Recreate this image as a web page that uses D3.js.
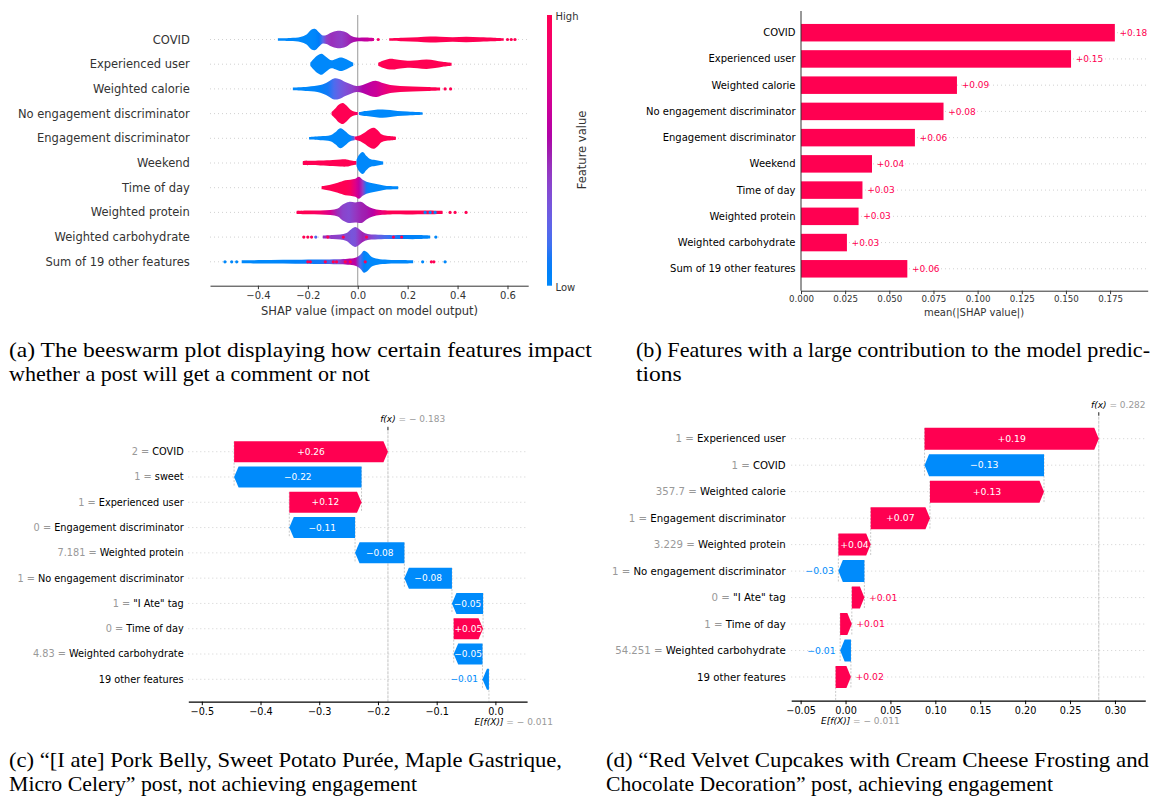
<!DOCTYPE html>
<html><head><meta charset="utf-8">
<script src="https://cdn.jsdelivr.net/npm/d3@7"></script>
<style>
html,body{margin:0;padding:0;background:#fff;}
svg{display:block;font-family:"DejaVu Sans",sans-serif;}
text{white-space:pre;}
</style></head><body>
<svg id="chart" width="1158" height="799"></svg>
<script>
// ================= DATA =================
// (a) beeswarm
const beeFeatures = ["COVID","Experienced user","Weighted calorie","No engagement discriminator","Engagement discriminator","Weekend","Time of day","Weighted protein","Weighted carbohydrate","Sum of 19 other features"];
const beeTicks = [-0.4,-0.2,0.0,0.2,0.4,0.6];
// swarm density profiles: [SHAP value, swarm density (0-12), feature value 0=low..1=high]
const beeBlobs = [
  ["COVID", [[-0.32,1.2,0],[-0.27,1.5,0],[-0.23,2.5,0],[-0.205,5,0],[-0.185,10,0],[-0.17,10.5,0.02],[-0.155,7,0.08],[-0.14,4,0.2],[-0.125,4.5,0.4],[-0.105,7,0.45],[-0.085,8.5,0.42],[-0.065,8.5,0.4],[-0.045,7,0.45],[-0.025,3.5,0.5],[-0.005,2,0.55],[0.03,2,0.62],[0.065,1.5,0.7]]],
  ["COVID", [[0.126,1.3,1],[0.18,1.8,1],[0.24,2.3,1],[0.29,3,1],[0.33,2.8,1],[0.38,2.3,1],[0.435,2.8,1],[0.49,2.2,1],[0.545,1.8,1],[0.585,1.3,1]]],
  ["Experienced user", [[-0.19,1.5,0],[-0.178,5,0],[-0.16,9,0],[-0.145,10.5,0],[-0.13,8,0],[-0.115,5,0],[-0.105,4,0],[-0.09,5,0],[-0.075,6.5,0],[-0.06,6.5,0],[-0.045,5,0],[-0.03,3,0],[-0.018,1.5,0]]],
  ["Experienced user", [[0.082,1.5,1],[0.1,3.5,1],[0.12,5,1],[0.142,5.3,1],[0.17,4.2,1],[0.209,3.5,1],[0.24,4,1],[0.276,4.7,1],[0.31,3.8,1],[0.34,2.5,1],[0.376,1.5,1]]],
  ["Weighted calorie", [[-0.26,1.3,0],[-0.2,2.2,0],[-0.15,3.8,0.05],[-0.12,7,0.1],[-0.095,10.5,0.18],[-0.075,10,0.25],[-0.05,7,0.32],[-0.025,4.5,0.38],[-0.005,3,0.45],[0.02,4,0.55],[0.05,7,0.62],[0.075,8,0.66],[0.1,6,0.75],[0.13,4,0.88],[0.17,3,0.97],[0.22,2.5,1],[0.28,2,1],[0.33,1.5,1]]],
  ["No engagement discriminator", [[-0.105,1.5,1],[-0.09,5,1],[-0.075,9,1],[-0.06,10.5,1],[-0.045,8,1],[-0.03,4,1],[-0.015,2,1],[0.0,1.5,0.85]]],
  ["No engagement discriminator", [[0.005,1.5,0.1],[0.02,2.2,0],[0.05,3,0],[0.08,4,0],[0.1,4.2,0],[0.13,3.5,0],[0.16,2.5,0],[0.2,2,0],[0.24,1.5,0],[0.26,1.2,0]]],
  ["Engagement discriminator", [[-0.195,1.3,0],[-0.15,2,0],[-0.11,3,0],[-0.09,6,0],[-0.07,10,0],[-0.05,7,0],[-0.03,3,0],[-0.012,2,0.3]]],
  ["Engagement discriminator", [[-0.012,1.5,0.9],[0.01,3,1],[0.03,6,1],[0.05,9.5,1],[0.065,10.5,1],[0.08,8,1],[0.095,4,1],[0.115,2.5,1],[0.14,2,1],[0.153,1.5,1]]],
  ["Weekend", [[-0.22,2,1],[-0.15,2.4,1],[-0.1,3,1],[-0.07,3.5,1],[-0.045,3.6,1],[-0.02,2.2,1],[-0.005,1.8,1]]],
  ["Weekend", [[-0.005,3,0.05],[0.005,8,0],[0.02,11,0],[0.035,7,0],[0.05,4,0],[0.07,3,0],[0.09,2,0],[0.102,1.5,0]]],
  ["Time of day", [[-0.145,1.5,1],[-0.11,3,1],[-0.08,5,1],[-0.05,7.5,1],[-0.03,8,0.95],[-0.01,9,0.75],[0.005,11,0.6],[0.02,8,0.4],[0.035,6,0.1],[0.05,5,0],[0.07,4,0],[0.09,3,0],[0.11,2,0],[0.162,1.5,0]]],
  ["Weighted protein", [[-0.245,1.5,1],[-0.2,1.8,1],[-0.15,2,0.9],[-0.11,2.5,0.7],[-0.08,4,0.45],[-0.06,8,0.38],[-0.035,10.5,0.35],[-0.01,10,0.42],[0.015,10.5,0.48],[0.035,7,0.5],[0.06,4,0.58],[0.09,2.5,0.8],[0.13,2,1],[0.2,2,1],[0.28,1.8,1],[0.34,1.5,1]]],
  ["Weighted carbohydrate", [[-0.14,1.5,0.45],[-0.1,2,0.4],[-0.07,2.5,0.38],[-0.045,4,0.35],[-0.025,8,0.3],[-0.01,10,0.32],[0.005,8,0.42],[0.02,5,0.48],[0.04,3,0.42],[0.07,2.5,0.3],[0.12,2,0.15],[0.18,2,0.08],[0.24,2,0.03],[0.29,1.5,0]]],
  ["Sum of 19 other features", [[-0.465,1.5,0],[-0.35,1.8,0],[-0.25,2,0.05],[-0.15,2.2,0.1],[-0.08,2.5,0.3],[-0.04,3,0.6],[-0.01,4,0.6],[0.01,7,0.2],[0.025,11,0.05],[0.04,9,0],[0.055,5,0],[0.08,3,0],[0.12,2,0],[0.18,1.8,0],[0.222,1.5,0]]]
];
// individual visible dots: [feature, SHAP value, feature value]
const beeDots = [
  ["COVID",0.082,0.9],["COVID",0.60,1],["COVID",0.615,1],["COVID",0.63,1],
  ["Weighted calorie",0.35,1],["Weighted calorie",0.372,1],
  ["Weighted protein",-0.238,1],["Weighted protein",-0.226,1],["Weighted protein",0.27,0],["Weighted protein",0.29,0],["Weighted protein",0.31,0],["Weighted protein",0.37,1],["Weighted protein",0.39,1],["Weighted protein",0.434,1],
  ["Weighted carbohydrate",-0.216,1],["Weighted carbohydrate",-0.2,1],["Weighted carbohydrate",-0.185,1],["Weighted carbohydrate",-0.168,0.2],["Weighted carbohydrate",-0.12,1],["Weighted carbohydrate",-0.058,1],["Weighted carbohydrate",0.035,1],["Weighted carbohydrate",0.143,1],["Weighted carbohydrate",0.176,1],["Weighted carbohydrate",0.313,0],
  ["Sum of 19 other features",-0.532,0],["Sum of 19 other features",-0.505,0],["Sum of 19 other features",-0.485,0],["Sum of 19 other features",-0.2,1],["Sum of 19 other features",-0.19,1],["Sum of 19 other features",-0.13,1],["Sum of 19 other features",-0.098,1],["Sum of 19 other features",-0.085,1],["Sum of 19 other features",-0.05,1],["Sum of 19 other features",-0.03,1],["Sum of 19 other features",0.03,1],["Sum of 19 other features",0.26,0],["Sum of 19 other features",0.295,1],["Sum of 19 other features",0.305,1],["Sum of 19 other features",0.35,0]
];

// (b) mean |SHAP| bar chart
const barFeatures = ["COVID","Experienced user","Weighted calorie","No engagement discriminator","Engagement discriminator","Weekend","Time of day","Weighted protein","Weighted carbohydrate","Sum of 19 other features"];
const barValues = [0.1777,0.1529,0.0883,0.0807,0.0645,0.0402,0.0348,0.0326,0.0260,0.0602];
const barTicks = [0,0.025,0.05,0.075,0.1,0.125,0.15,0.175];

// (c) waterfall, post not achieving engagement
const wfCFeatures = ["COVID","sweet","Experienced user","Engagement discriminator","Weighted protein","No engagement discriminator","\"I Ate\" tag","Time of day","Weighted carbohydrate","19 other features"];
const wfCFeatureValues = ["2","1","1","0","7.181","1","1","0","4.83",""];
const wfCShap = [0.262,-0.217,0.123,-0.112,-0.084,-0.081,-0.053,0.050,-0.049,-0.011];
const wfCBase = -0.011, wfCFx = -0.183;
const wfCTicks = [-0.5,-0.4,-0.3,-0.2,-0.1,0.0];

// (d) waterfall, post achieving engagement
const wfDFeatures = ["Experienced user","COVID","Weighted calorie","Engagement discriminator","Weighted protein","No engagement discriminator","\"I Ate\" tag","Time of day","Weighted carbohydrate","19 other features"];
const wfDFeatureValues = ["1","1","357.7","1","3.229","1","0","1","54.251",""];
const wfDShap = [0.194,-0.133,0.127,0.066,0.036,-0.029,0.014,0.013,-0.012,0.017];
const wfDBase = -0.011, wfDFx = 0.282;
const wfDTicks = [-0.05,0.0,0.05,0.1,0.15,0.2,0.25,0.3];

// captions
const captionA = ["(a) The beeswarm plot displaying how certain features impact","whether a post will get a comment or not"];
const captionB = ["(b) Features with a large contribution to the model predic-","tions"];
const captionC = ["(c) \u201c[I ate] Pork Belly, Sweet Potato Pur\u00e9e, Maple Gastrique,","Micro Celery\u201d post, not achieving engagement"];
const captionD = ["(d) \u201cRed Velvet Cupcakes with Cream Cheese Frosting and","Chocolate Decoration\u201d post, achieving engagement"];

// ================= DRAWING =================
const RED = "#ff0051", BLUE = "#008bfb";
// SHAP red-blue colour map: LCh blend, hue 267 -> 380, chroma 70 -> 90, lightness 54 -> 40 -> 54
const cmap = t => {
  const l = t < 0.5 ? 54 - 28 * t : 40 + 28 * (t - 0.5);
  return d3.hcl(267 + 113 * t, 70 + 20 * t, l).formatHex();
};
const svg = d3.select("#chart");
const defs = svg.append("defs");
const FONT = "DejaVu Sans";

function styleAxis(ax, color, fs, width) {
  ax.attr("font-family", FONT);
  ax.select(".domain").attr("stroke", color).attr("stroke-width", width || 1);
  ax.selectAll(".tick line").attr("stroke", color);
  ax.selectAll(".tick text").attr("fill", color).attr("font-size", fs);
}

// ---------- (a) beeswarm ----------
(function(){
  const g = svg.append("g");
  const x = d3.scaleLinear().domain([-0.592, 0.683]).range([210, 528.2]);
  const y = d3.scalePoint().domain(beeFeatures).range([39.5, 261.8]);
  const dens = d3.scaleLinear().domain([0, 12]).range([0, 12]);
  const axisY = 285.7;

  g.selectAll("line.grid").data(beeFeatures).join("line").attr("class","grid")
    .attr("x1", x.range()[0]).attr("x2", x.range()[1])
    .attr("y1", d => y(d)).attr("y2", d => y(d))
    .attr("stroke", "#ccc").attr("stroke-width", 0.9).attr("stroke-dasharray", "1,3");
  g.append("line").attr("x1", x(0)).attr("x2", x(0)).attr("y1", 15).attr("y2", axisY)
    .attr("stroke", "#999").attr("stroke-width", 1);

  beeBlobs.forEach((b, i) => {
    const [feat, pts] = b;
    const cy = y(feat);
    const gid = "bee" + i;
    const x1 = x(pts[0][0]), x2 = x(pts[pts.length-1][0]);
    const lg = defs.append("linearGradient").attr("id", gid)
      .attr("gradientUnits", "userSpaceOnUse").attr("x1", x1).attr("x2", x2).attr("y1", 0).attr("y2", 0);
    pts.forEach(p => lg.append("stop").attr("offset", (x(p[0]) - x1) / (x2 - x1)).attr("stop-color", cmap(p[2])));
    const area = d3.area().x(p => x(p[0])).y0(p => cy - dens(p[1])).y1(p => cy + dens(p[1]))
      .curve(d3.curveCatmullRom.alpha(0.5));
    g.append("path").attr("d", area(pts)).attr("fill", `url(#${gid})`);
  });
  g.selectAll("circle.dot").data(beeDots).join("circle").attr("class","dot")
    .attr("cx", d => x(d[1])).attr("cy", d => y(d[0])).attr("r", 1.6)
    .attr("fill", d => cmap(d[2]));

  g.selectAll("text.lab").data(beeFeatures).join("text").attr("class","lab")
    .attr("x", 189.8).attr("y", d => y(d)).attr("dy", "0.35em")
    .attr("text-anchor", "end").attr("font-size", 11.5).attr("fill", "#333").text(d => d);

  const ax = g.append("g").attr("transform", `translate(0,${axisY})`)
    .call(d3.axisBottom(x).tickValues(beeTicks).tickFormat(d3.format(".1f")).tickSize(3.5).tickSizeOuter(0));
  styleAxis(ax, "#333", 10);
  g.append("text").attr("x", 369.5).attr("y", 315).attr("text-anchor", "middle")
    .attr("font-size", 11.5).attr("fill", "#333").text("SHAP value (impact on model output)");

  // colour bar
  const cg = defs.append("linearGradient").attr("id", "cbar").attr("x1", 0).attr("x2", 0).attr("y1", 1).attr("y2", 0);
  d3.range(0, 1.0001, 0.05).forEach(t => cg.append("stop").attr("offset", t).attr("stop-color", cmap(t)));
  g.append("rect").attr("x", 547).attr("y", 15).attr("width", 5).attr("height", axisY - 15).attr("fill", "url(#cbar)");
  g.append("text").attr("x", 555.5).attr("y", 19.5).attr("font-size", 10).attr("fill", "#333").text("High");
  g.append("text").attr("x", 555.5).attr("y", 290.5).attr("font-size", 10).attr("fill", "#333").text("Low");
  g.append("text").attr("transform", "translate(582,150) rotate(-90)").attr("text-anchor", "middle")
    .attr("dy", "0.35em").attr("font-size", 11.5).attr("fill", "#333").text("Feature value");
})();

// ---------- (b) bar ----------
(function(){
  const g = svg.append("g");
  const x = d3.scaleLinear().domain([0, 0.1963]).range([801, 1147.7]);
  const y = d3.scalePoint().domain(barFeatures).range([32.7, 268.8]);
  const axisY = 290.7, bh = 17.5;
  g.selectAll("line.grid").data(barFeatures).join("line")
    .attr("x1", x(0)).attr("x2", x.range()[1]).attr("y1", d => y(d)).attr("y2", d => y(d))
    .attr("stroke", "#ccc").attr("stroke-width", 0.9).attr("stroke-dasharray", "1,3");
  g.selectAll("rect.bar").data(barFeatures).join("rect").attr("class","bar")
    .attr("x", x(0)).attr("y", d => y(d) - bh/2)
    .attr("width", (d, i) => x(barValues[i]) - x(0)).attr("height", bh).attr("fill", RED);
  g.selectAll("text.val").data(barFeatures).join("text").attr("class","val")
    .attr("x", (d, i) => x(barValues[i]) + 4.7).attr("y", d => y(d)).attr("dy", "0.35em")
    .attr("font-size", 9).attr("fill", RED).text((d, i) => "+" + barValues[i].toFixed(2));
  g.selectAll("text.lab").data(barFeatures).join("text").attr("class","lab")
    .attr("x", 795.5).attr("y", d => y(d)).attr("dy", "0.35em").attr("text-anchor", "end")
    .attr("font-size", 10).attr("fill", "#000").text(d => d);
  g.append("line").attr("x1", x(0)).attr("x2", x(0)).attr("y1", 11).attr("y2", axisY).attr("stroke", "#333");
  const ax = g.append("g").attr("transform", `translate(0,${axisY})`)
    .call(d3.axisBottom(x).tickValues(barTicks).tickFormat(d3.format(".3f")).tickSize(3.5).tickPadding(2).tickSizeOuter(0));
  styleAxis(ax, "#333", 8.7);
  g.append("text").attr("x", 974).attr("y", 316).attr("text-anchor", "middle")
    .attr("font-size", 10).attr("fill", "#333").text("mean(|SHAP value|)");
})();

// ---------- waterfalls ----------
function waterfall(features, fvals, shap, base, fx, ticks, fmt, L) {
  const g = svg.append("g");
  const x = d3.scaleLinear().domain(L.domain).range(L.range);
  const y = d3.scalePoint().domain(features).range(L.rows);
  const step = y.step();
  const n = features.length;
  const start = new Array(n), end = new Array(n);
  let cur = base;
  for (let i = n - 1; i >= 0; i--) { start[i] = cur; cur += shap[i]; end[i] = cur; }
  const fmtv = v => (v >= 0 ? "+" : "\u2212") + Math.abs(v).toFixed(2);
  const fmtEq = v => v < 0 ? " = \u2212 " + Math.abs(v).toFixed(3) : " = " + v.toFixed(3);

  g.selectAll("line.grid").data(features).join("line")
    .attr("x1", L.range[0]).attr("x2", L.range[1]).attr("y1", d => y(d)).attr("y2", d => y(d))
    .attr("stroke", "#ccc").attr("stroke-width", 0.9).attr("stroke-dasharray", "1,3");
  // connectors
  features.forEach((f, i) => {
    g.append("line").attr("x1", x(start[i])).attr("x2", x(start[i]))
      .attr("y1", y(f) - 0.4 * step).attr("y2", Math.min(L.axisY, y(f) + 1.4 * step))
      .attr("stroke", "#bbb").attr("stroke-width", 0.8).attr("stroke-dasharray", "2,1.5");
  });
  // f(x) line
  g.append("line").attr("x1", x(fx)).attr("x2", x(fx)).attr("y1", L.fxTop).attr("y2", L.axisY)
    .attr("stroke", "#bbb").attr("stroke-width", 0.9).attr("stroke-dasharray", "3,1");
  g.append("line").attr("x1", x(fx)).attr("x2", x(fx)).attr("y1", L.fxTop - 0.5).attr("y2", L.fxTop + 3)
    .attr("stroke", "#333").attr("stroke-width", 1);

  const hl = 4.5, bh = L.barH;
  features.forEach((f, i) => {
    const cy = y(f), x0 = x(start[i]), x1 = x(end[i]);
    const w = Math.abs(x1 - x0), dir = shap[i] >= 0 ? 1 : -1;
    const h = Math.min(w, hl);
    const pts = [[x0, cy - bh/2], [x1 - dir*h, cy - bh/2], [x1, cy], [x1 - dir*h, cy + bh/2], [x0, cy + bh/2]];
    const col = dir > 0 ? RED : BLUE;
    g.append("path").attr("d", "M" + pts.map(p => p.join(",")).join("L") + "Z").attr("fill", col);
    const t = g.append("text").attr("x", (x0 + x1) / 2).attr("y", cy).attr("dy", "0.35em")
      .attr("text-anchor", "middle").attr("font-size", L.valFont).attr("fill", "#fff").text(fmtv(shap[i]));
    const tw = t.node().getComputedTextLength();
    if (tw >= w) {
      t.attr("fill", col);
      if (dir > 0) t.attr("x", x1 + 4.5).attr("text-anchor", "start");
      else t.attr("x", x1 - 4.5).attr("text-anchor", "end");
    }
    const lt = g.append("text").attr("x", L.labelX).attr("y", cy).attr("dy", "0.35em")
      .attr("text-anchor", "end").attr("font-size", L.labFont);
    if (fvals[i] !== "") lt.append("tspan").attr("fill", "#999").text(fvals[i] + " = ");
    lt.append("tspan").attr("fill", "#000").text(f);
  });

  const ax = g.append("g").attr("transform", `translate(0,${L.axisY})`)
    .call(d3.axisBottom(x).tickValues(ticks).tickFormat(fmt).tickSize(3.5).tickSizeOuter(0));
  styleAxis(ax, "#000", 9.7, 1.3);

  // f(x) and E[f(X)] labels
  const fxT = g.append("text").attr("x", x(fx)).attr("y", L.fxLabelY).attr("text-anchor", "middle")
    .attr("font-size", 9).attr("font-style", "italic").attr("fill", "#000").text("f(x)");
  const fw = fxT.node().getComputedTextLength();
  g.append("text").attr("x", x(fx) + fw/2).attr("y", L.fxLabelY).attr("font-size", 9).attr("fill", "#999").text(fmtEq(fx));
  const eT = g.append("text").attr("x", x(base)).attr("y", L.eLabelY).attr("text-anchor", "middle")
    .attr("font-size", 9).attr("font-style", "italic").attr("fill", "#000").text("E[f(X)]");
  const ew = eT.node().getComputedTextLength();
  g.append("text").attr("x", x(base) + ew/2).attr("y", L.eLabelY).attr("font-size", 9).attr("fill", "#999").text(fmtEq(base));
}

waterfall(wfCFeatures, wfCFeatureValues, wfCShap, wfCBase, wfCFx, wfCTicks, d3.format(".1f"), {
  domain: [-0.523, 0.054], range: [188.3, 527.1], rows: [451.7, 679.3], barH: 21,
  labelX: 183.7, labFont: 9.75, valFont: 9, axisY: 701.7, fxTop: 427.3, fxLabelY: 422, eLabelY: 724.5
});
waterfall(wfDFeatures, wfDFeatureValues, wfDShap, wfDBase, wfDFx, wfDTicks, d3.format(".2f"), {
  domain: [-0.0605, 0.3338], range: [791.2, 1145.3], rows: [438.7, 677], barH: 22,
  labelX: 785.7, labFont: 10.2, valFont: 9.3, axisY: 700.7, fxTop: 412.7, fxLabelY: 408, eLabelY: 724
});

// ---------- captions ----------
function caption(lines, x0, widths, y0) {
  lines.forEach((s, i) => {
    svg.append("text").attr("x", x0).attr("y", y0 + i * 24)
      .attr("font-family", "Liberation Serif").attr("font-size", 21).attr("fill", "#000")
      .attr("textLength", widths[i]).attr("lengthAdjust", "spacingAndGlyphs").text(s);
  });
}
caption(captionA, 9, [582.7, 361], 357);
caption(captionB, 636, [514, 45.7], 357);
caption(captionC, 9, [553, 408], 767);
caption(captionD, 606, [543, 447], 767);
</script></body></html>
